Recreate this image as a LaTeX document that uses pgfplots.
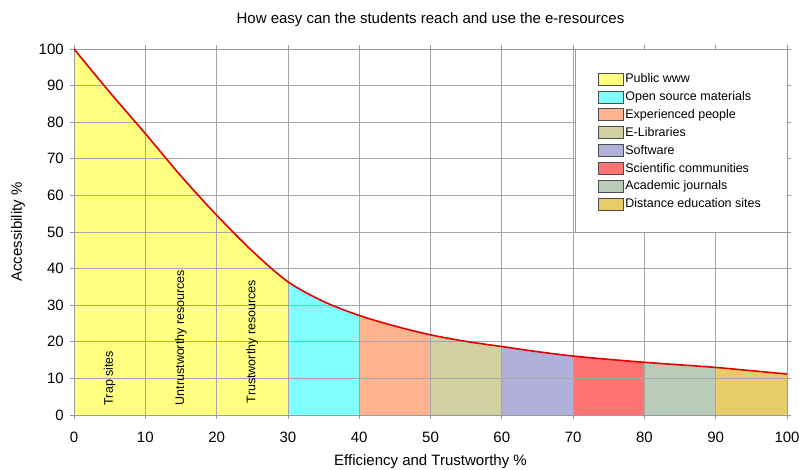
\documentclass[border=0pt]{standalone}
\usepackage{fontspec}
\setmainfont{Liberation Sans}
\usepackage{pgfplots}
\pgfplotsset{compat=1.18}
\usepgfplotslibrary{fillbetween}
\definecolor{cPub}{HTML}{FFFF80}
\definecolor{cOpen}{HTML}{80FFFF}
\definecolor{cExp}{HTML}{FFB38F}
\definecolor{cElib}{HTML}{D0D0A2}
\definecolor{cSoft}{HTML}{B0B0D8}
\definecolor{cSci}{HTML}{FF7373}
\definecolor{cAcad}{HTML}{B8CCB8}
\definecolor{cDist}{HTML}{E8CC6A}
\pgfplotsset{layers/mine/.define layer set={axis background,pre main,axis grid,axis ticks,axis lines,axis tick labels,main,axis descriptions,axis foreground}{}}
\pgfplotsset{/pgfplots/area legend/.style={legend image code/.code={\draw[##1,draw=black!70,line width=0.6pt] (0pt,-6pt) rectangle (25pt,6pt);}}}
\pgfplotstableread{
x y
0 100
5 88.2
10 76.9
15 65.3
20 54.6
25 44.8
30 36.4
35 31.0
40 27.2
45 24.3
50 21.9
55 20.1
60 18.7
65 17.3
70 16.1
75 15.2
80 14.4
85 13.7
90 13.0
95 12.1
100 11.2
}\curve
\begin{document}
\begin{tikzpicture}
\begin{axis}[
  set layers=mine,
  scale only axis,
  width=713pt, height=366pt,
  xmin=0, xmax=100, ymin=0, ymax=100,
  xtick={0,10,...,100}, ytick={0,10,...,100},
  grid=major,
  grid style={color=black!35, line width=0.7pt},
  axis line style={color=black!40, line width=0.7pt},
  tick style={color=black!40, line width=0.7pt},
  tick align=outside,
  major tick length=4pt,
  /pgf/number format/assume math mode=true,
  tick label style={font=\fontsize{15}{17}\selectfont},
  xticklabel style={yshift=-9pt},
  yticklabel style={xshift=-2.7pt},
  title={How easy can the students reach and use the e-resources},
  title style={font=\fontsize{15}{17}\selectfont, at={(axis description cs:0.5,1)}, anchor=center, yshift=23pt},
  xlabel={Efficiency and Trustworthy \%},
  ylabel={Accessibility \%},
  label style={font=\fontsize{15}{17}\selectfont},
  xlabel style={at={(axis description cs:0.5,-0.128)}, anchor=center},
  ylabel style={at={(axis description cs:-0.0785,0.5)}, anchor=center},
  legend style={at={(axis description cs:0.735,0.937)}, anchor=north west, draw=none, fill=none,
    font=\fontsize{12.5}{14}\selectfont, row sep=4.3pt,
    inner xsep=0pt, inner ysep=0pt, nodes={inner sep=1.5pt}},
  legend cell align=left,
]
\addplot[name path=curve, draw=none, forget plot, smooth] table {\curve};
\path[name path=base] (axis cs:0,0) -- (axis cs:100,0);
\addplot[fill=cPub, draw=none] fill between[of=curve and base, soft clip={domain=0:30}];
\addlegendentry{Public www}
\addplot[fill=cOpen, draw=none] fill between[of=curve and base, soft clip={domain=30:40}];
\addlegendentry{Open source materials}
\addplot[fill=cExp, draw=none] fill between[of=curve and base, soft clip={domain=40:50}];
\addlegendentry{Experienced people}
\addplot[fill=cElib, draw=none] fill between[of=curve and base, soft clip={domain=50:60}];
\addlegendentry{E-Libraries}
\addplot[fill=cSoft, draw=none] fill between[of=curve and base, soft clip={domain=60:70}];
\addlegendentry{Software}
\addplot[fill=cSci, draw=none] fill between[of=curve and base, soft clip={domain=70:80}];
\addlegendentry{Scientific communities}
\addplot[fill=cAcad, draw=none] fill between[of=curve and base, soft clip={domain=80:90}];
\addlegendentry{Academic journals}
\addplot[fill=cDist, draw=none] fill between[of=curve and base, soft clip={domain=90:100}];
\addlegendentry{Distance education sites}
\addplot[red!90!black, line width=1.6pt, smooth, forget plot] table {\curve};
\draw[fill=white, draw=black!40, line width=0.7pt] (axis cs:70.3,50) rectangle (axis cs:100,100);
\node[rotate=90, anchor=west, inner sep=0pt, font=\fontsize{12.5}{14}\selectfont] at (axis cs:5,2.6) {Trap sites};
\node[rotate=90, anchor=west, inner sep=0pt, font=\fontsize{12.5}{14}\selectfont] at (axis cs:15,2.6) {Untrustworthy resources};
\node[rotate=90, anchor=west, inner sep=0pt, font=\fontsize{12.5}{14}\selectfont] at (axis cs:25,3.2) {Trustworthy resources};
\end{axis}
\pgfresetboundingbox
\path (current axis.south west) ++(-74pt,-55pt) coordinate (bbA);
\path (current axis.north east) ++(12pt,49pt) coordinate (bbB);
\useasboundingbox (bbA) rectangle (bbB);
\end{tikzpicture}
\end{document}
